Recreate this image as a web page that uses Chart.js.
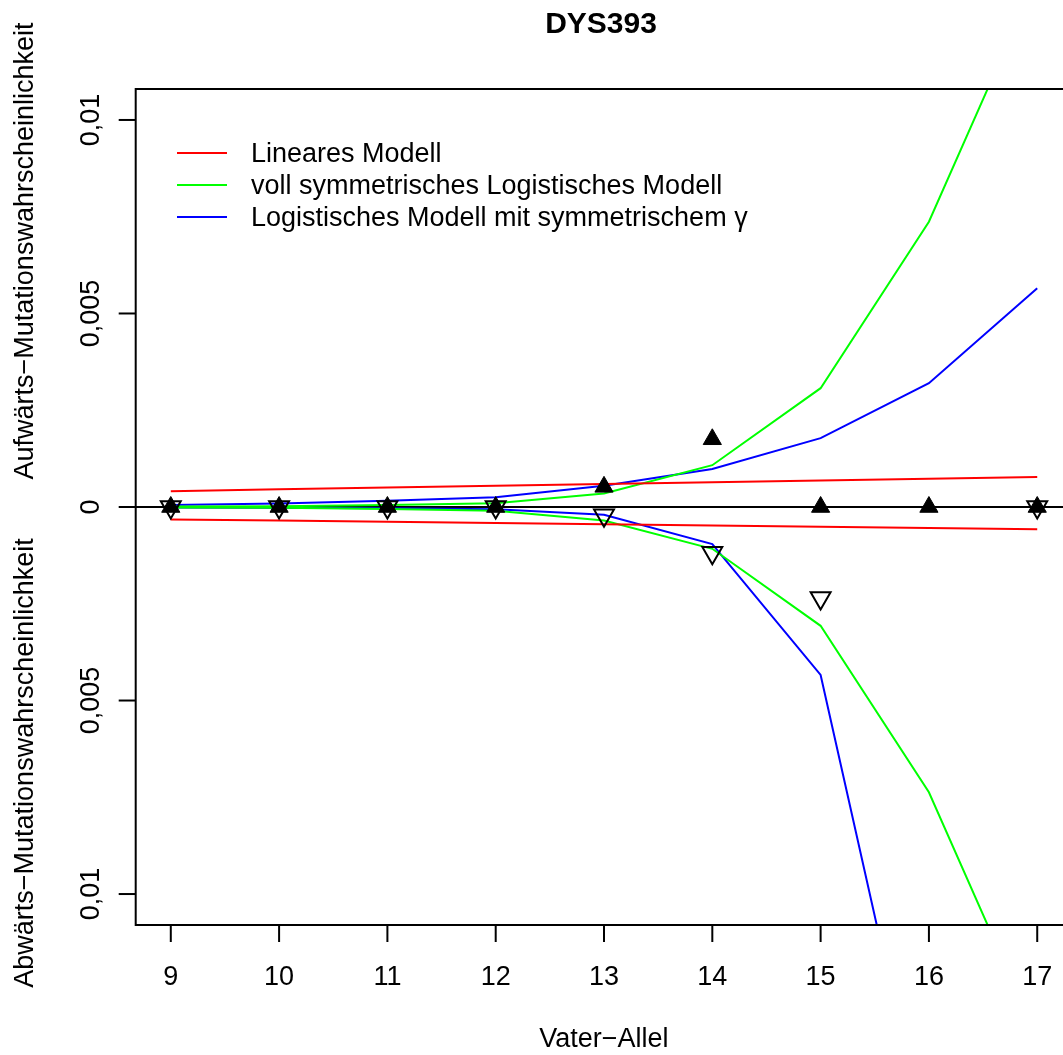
<!DOCTYPE html>
<html lang="de">
<head>
<meta charset="UTF-8">
<title>DYS393</title>
<script src="https://cdn.jsdelivr.net/npm/chart.js@4.4.1/dist/chart.umd.min.js"></script>
<style>
    html, body {margin: 0; padding: 0; background: #fff; overflow: hidden;}
    canvas {display: block;}
</style>
</head>
<body>
<canvas id="dys" width="1063" height="1055"></canvas>
<script>
    // Vater-Allel
    const alleles = [9, 10, 11, 12, 13, 14, 15, 16, 17];

    // beobachtete Mutationsraten (oben: aufwaerts, unten: abwaerts, negativ)
    const obsUp = [0, 0, 0, 0, 0.00052, 0.00175, 0, 0, 0];
    const obsDown = [0, 0, 0, 0, -0.00021, -0.00118, -0.00235, null, 0];

    // Modelle
    const linUp = [0.00041, 0.000456, 0.000502, 0.000548, 0.000594, 0.00064, 0.000686, 0.000732, 0.000778];
    const linDown = [-0.00032, -0.000352, -0.000384, -0.000416, -0.000448, -0.00048, -0.000512, -0.000544, -0.000576];
    const symUp = [0.00001, 0.00002, 0.00005, 0.0001, 0.00035, 0.00108, 0.00307, 0.00737, 0.0137];
    const symDown = [-0.00001, -0.00002, -0.00005, -0.0001, -0.00035, -0.00108, -0.00307, -0.00737, -0.0137];
    const gamUp = [0.00005, 0.00009, 0.00016, 0.00025, 0.00055, 0.00098, 0.00178, 0.0032, 0.00565];
    const gamDown = [-0.00001, -0.00002, -0.00003, -0.00006, -0.0002, -0.00096, -0.00434, -0.0168, -0.065];

    const yTicks = [-0.01, -0.005, 0, 0.005, 0.01];
    const yTickLabels = ['0,01', '0,005', '0', '0,005', '0,01'];

    const legendLabels = ['Lineares Modell', 'voll symmetrisches Logistisches Modell', 'Logistisches Modell mit symmetrischem \u03b3'];
    const legendColors = ['#ff0000', '#00ff00', '#0000ff'];

    const FONT = '"Liberation Sans", Arial, Helvetica, sans-serif';

    function pts(ys) {
        return alleles.map((x, i) => ({x: x, y: ys[i]}));
    }

    function modelLine(ys, color) {
        return {data: pts(ys), showLine: true, borderColor: color, borderWidth: 2, pointRadius: 0, tension: 0, order: 2};
    }

    // R-artige Achsen, Rahmen, Beschriftung
    const rAxes = {
        id: 'rAxes',
        beforeDatasetsDraw(chart) {
            const ctx = chart.ctx, a = chart.chartArea, y = chart.scales.y;
            ctx.save();
            ctx.strokeStyle = '#000';
            ctx.lineWidth = 2;
            // Nulllinie
            ctx.beginPath();
            ctx.moveTo(a.left, y.getPixelForValue(0));
            ctx.lineTo(a.right, y.getPixelForValue(0));
            ctx.stroke();
            ctx.restore();
        },
        afterDraw(chart) {
            const ctx = chart.ctx, a = chart.chartArea, xs = chart.scales.x, ys = chart.scales.y;
            ctx.save();
            ctx.strokeStyle = '#000';
            ctx.fillStyle = '#000';
            ctx.lineWidth = 2;
            // Rahmen (rechte Kante liegt ausserhalb)
            ctx.beginPath();
            ctx.moveTo(a.right + 5, a.top);
            ctx.lineTo(a.left, a.top);
            ctx.lineTo(a.left, a.bottom);
            ctx.lineTo(a.right + 5, a.bottom);
            ctx.stroke();

            // x-Achse
            ctx.font = '27px ' + FONT;
            ctx.textAlign = 'center';
            ctx.textBaseline = 'alphabetic';
            alleles.forEach(v => {
                const px = xs.getPixelForValue(v);
                ctx.beginPath();
                ctx.moveTo(px, a.bottom);
                ctx.lineTo(px, a.bottom + 17);
                ctx.stroke();
                ctx.fillText(String(v), px, a.bottom + 60);
            });
            ctx.fillText('Vater\u2212Allel', (a.left + xs.getPixelForValue(17.32)) / 2, a.bottom + 122);

            // y-Achse
            yTicks.forEach((v, i) => {
                const py = ys.getPixelForValue(v);
                ctx.beginPath();
                ctx.moveTo(a.left, py);
                ctx.lineTo(a.left - 17, py);
                ctx.stroke();
                ctx.save();
                ctx.translate(a.left - 37, py);
                ctx.rotate(-Math.PI / 2);
                ctx.fillText(yTickLabels[i], 0, 0);
                ctx.restore();
            });
            ctx.save();
            ctx.translate(33, 251);
            ctx.rotate(-Math.PI / 2);
            ctx.fillText('Aufw\u00e4rts\u2212Mutationswahrscheinlichkeit', 0, 0);
            ctx.restore();
            ctx.save();
            ctx.translate(33, 763);
            ctx.rotate(-Math.PI / 2);
            ctx.fillText('Abw\u00e4rts\u2212Mutationswahrscheinlichkeit', 0, 0);
            ctx.restore();

            // Titel
            ctx.font = 'bold 30px ' + FONT;
            ctx.fillText('DYS393', 601, 33);

            // Legende
            ctx.font = '27px ' + FONT;
            ctx.textAlign = 'left';
            legendLabels.forEach((t, i) => {
                const ly = 153 + i * 32;
                ctx.strokeStyle = legendColors[i];
                ctx.beginPath();
                ctx.moveTo(177, ly);
                ctx.lineTo(227, ly);
                ctx.stroke();
                ctx.fillText(t, 251, ly + 9);
            });
            ctx.restore();
        }
    };

    new Chart(document.getElementById('dys'), {
        type: 'scatter',
        data: {
            datasets: [
                {data: pts(obsUp), pointStyle: 'triangle', pointRadius: 10.5, backgroundColor: '#000', borderColor: '#000', borderWidth: 1, order: 0},
                {data: pts(obsDown), pointStyle: 'triangle', rotation: 180, pointRadius: 11.5, backgroundColor: 'rgba(0,0,0,0)', borderColor: '#000', borderWidth: 2, order: 1},
                modelLine(linUp, legendColors[0]),
                modelLine(linDown, legendColors[0]),
                modelLine(symUp, legendColors[1]),
                modelLine(symDown, legendColors[1]),
                modelLine(gamUp, legendColors[2]),
                modelLine(gamDown, legendColors[2])
            ]
        },
        options: {
            responsive: false,
            animation: false,
            layout: {autoPadding: false, padding: {left: 135.7, top: 89, right: 0, bottom: 130}},
            scales: {
                x: {type: 'linear', min: 8.676, max: 17.238, display: false},
                y: {type: 'linear', min: -0.0108, max: 0.0108, display: false}
            },
            plugins: {legend: {display: false}, tooltip: {enabled: false}}
        },
        plugins: [rAxes]
    });
</script>
</body>
</html>
